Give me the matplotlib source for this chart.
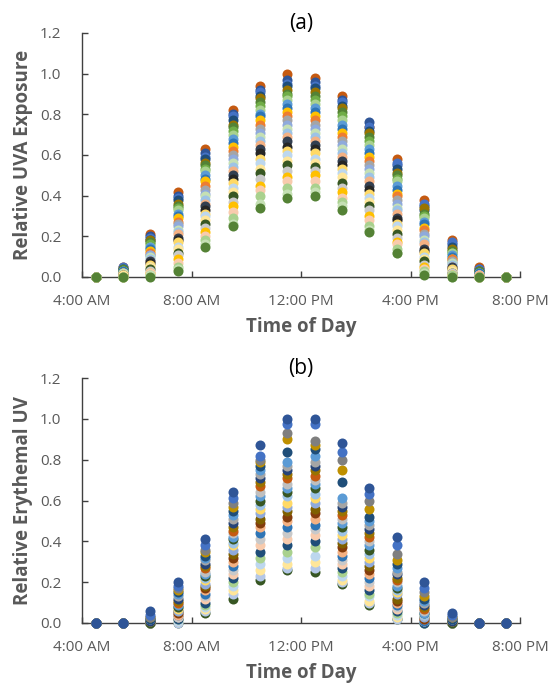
import matplotlib
matplotlib.use("Agg")
import matplotlib.pyplot as plt

plt.rcParams['font.family'] = ['Open Sans', 'DejaVu Sans']

# Sampling times (hours of the day, half past each hour)
hours = [4.5, 5.5, 6.5, 7.5, 8.5, 9.5, 10.5, 11.5, 12.5, 13.5, 14.5, 15.5, 16.5, 17.5, 18.5, 19.5]

tick_hours = [4, 8, 12, 16, 20]
tick_labels = ["4:00 AM", "8:00 AM", "12:00 PM", "4:00 PM", "8:00 PM"]
y_ticks = [0.0, 0.2, 0.4, 0.6, 0.8, 1.0, 1.2]

# ---- (a) Relative UVA exposure, one row per site/day ----
uva_colors = [
    "#C55A11", "#2F5597", "#4472C4", "#1F4E79", "#997300", "#548235",
    "#70AD47", "#A9D18E", "#5B9BD5", "#2E75B6", "#FFC000", "#ED7D31",
    "#A5A5A5", "#8FAADC", "#C5E0B4", "#9DC3E6", "#F4B183", "#333F50",
    "#262626", "#FFD966", "#BDD7EE", "#FFE699", "#385723", "#C9C9C9",
    "#FFC000", "#F8CBAD", "#A9D18E", "#C5E0B4", "#548235",
]
uva = [
    [0, .05, .21, .42, .63, .82, .94, 1.00, .98, .89, .74, .58, .38, .18, .05, 0],
    [0, .04, .20, .40, .61, .80, .92, .97, .96, .87, .76, .55, .35, .16, .04, 0],
    [0, .05, .19, .39, .59, .79, .91, .95, .94, .86, .74, .56, .36, .17, .04, 0],
    [0, .04, .18, .38, .58, .77, .89, .94, .93, .84, .72, .53, .33, .15, .03, 0],
    [0, .03, .18, .36, .56, .75, .88, .92, .91, .83, .71, .51, .34, .14, .03, 0],
    [0, .04, .17, .35, .55, .74, .86, .90, .89, .81, .69, .50, .31, .13, .03, 0],
    [0, .03, .16, .34, .53, .72, .84, .89, .87, .79, .67, .48, .30, .12, .02, 0],
    [0, .03, .15, .33, .52, .70, .82, .87, .85, .77, .65, .47, .29, .12, .02, 0],
    [0, .02, .15, .31, .50, .68, .80, .85, .83, .75, .63, .45, .27, .11, .02, 0],
    [0, .03, .14, .30, .48, .66, .79, .83, .81, .73, .61, .43, .26, .10, .02, 0],
    [0, .02, .13, .29, .47, .64, .77, .81, .79, .71, .59, .41, .24, .09, .01, 0],
    [0, .02, .12, .27, .45, .62, .75, .79, .77, .69, .57, .40, .23, .09, .01, 0],
    [0, .02, .11, .26, .43, .60, .73, .77, .75, .67, .55, .38, .21, .08, .01, 0],
    [0, .01, .11, .25, .41, .58, .71, .75, .73, .65, .53, .36, .20, .07, .01, 0],
    [0, .02, .10, .23, .40, .56, .69, .73, .71, .63, .51, .34, .18, .07, .01, 0],
    [0, .01, .09, .22, .38, .54, .67, .71, .69, .61, .49, .33, .17, .06, .01, 0],
    [0, .01, .08, .21, .36, .52, .65, .69, .67, .59, .47, .31, .16, .05, .01, 0],
    [0, .01, .08, .19, .35, .50, .63, .67, .65, .57, .45, .29, .14, .05, 0, 0],
    [0, .01, .07, .18, .33, .48, .61, .64, .63, .55, .43, .28, .13, .04, 0, 0],
    [0, .01, .06, .17, .31, .46, .58, .62, .61, .53, .41, .26, .12, .04, 0, 0],
    [0, 0, .05, .15, .30, .44, .56, .60, .58, .51, .39, .25, .10, .03, 0, 0],
    [0, .01, .05, .14, .28, .42, .53, .57, .56, .49, .37, .23, .09, .03, 0, 0],
    [0, 0, .04, .12, .26, .40, .51, .55, .54, .46, .35, .21, .08, .02, 0, 0],
    [0, 0, .03, .11, .24, .37, .48, .52, .52, .44, .33, .19, .06, .02, 0, 0],
    [0, 0, .02, .09, .22, .35, .45, .49, .50, .42, .30, .17, .05, .01, 0, 0],
    [0, 0, .02, .07, .20, .32, .43, .47, .47, .39, .28, .16, .04, .01, 0, 0],
    [0, 0, .01, .05, .18, .29, .40, .44, .44, .37, .25, .14, .03, .01, 0, 0],
    [0, 0, .01, .04, .16, .26, .36, .41, .42, .35, .23, .12, .02, 0, 0, 0],
    [0, 0, 0, .03, .15, .25, .34, .39, .40, .33, .22, .12, .01, 0, 0, 0],
]

# ---- (b) Relative erythemal UV, one row per site/day ----
ery_colors = [
    "#2F5597", "#4472C4", "#7F7F7F", "#BF9000", "#1F4E79", "#5B9BD5",
    "#A5A5A5", "#264478", "#997300", "#C55A11", "#BFBFBF", "#5B9BD5",
    "#385723", "#9DC3E6", "#FFD966", "#8FAADC", "#7F6000", "#843C0C",
    "#F4B183", "#2E75B6", "#C9C9C9", "#F8CBAD", "#1F4E79", "#A9D18E",
    "#BDD7EE", "#FFE699", "#B4C7E7", "#375623",
]
ery = [
    [0, 0, .06, .20, .41, .64, .87, 1.00, 1.00, .88, .66, .42, .20, .05, 0, 0],
    [0, 0, .04, .18, .38, .61, .82, .975, .975, .84, .63, .38, .17, .04, 0, 0],
    [0, 0, .03, .17, .36, .59, .80, .93, .89, .80, .60, .34, .15, .03, 0, 0],
    [0, 0, .03, .16, .35, .57, .79, .90, .87, .75, .56, .31, .13, .03, 0, 0],
    [0, 0, .02, .15, .33, .55, .77, .84, .85, .69, .52, .29, .12, .02, 0, 0],
    [0, 0, .02, .14, .32, .53, .75, .79, .82, .61, .50, .27, .11, .02, 0, 0],
    [0, 0, .02, .13, .31, .51, .73, .77, .79, .59, .48, .25, .10, .02, 0, 0],
    [0, 0, .01, .12, .29, .49, .71, .75, .77, .57, .46, .24, .09, .01, 0, 0],
    [0, 0, .01, .11, .28, .47, .69, .73, .75, .55, .44, .22, .08, .01, 0, 0],
    [0, 0, .01, .10, .27, .45, .67, .71, .72, .53, .42, .21, .07, .01, 0, 0],
    [0, 0, .01, .10, .25, .44, .64, .68, .70, .51, .40, .20, .06, .01, 0, 0],
    [0, 0, .01, .09, .24, .42, .62, .66, .68, .49, .38, .18, .05, .01, 0, 0],
    [0, 0, 0, .08, .23, .41, .60, .64, .66, .47, .36, .17, .05, 0, 0, 0],
    [0, 0, 0, .08, .22, .39, .58, .62, .63, .45, .34, .16, .04, 0, 0, 0],
    [0, 0, 0, .07, .21, .38, .56, .59, .61, .43, .32, .15, .04, 0, 0, 0],
    [0, 0, 0, .06, .19, .36, .54, .57, .59, .41, .30, .14, .03, 0, 0, 0],
    [0, 0, 0, .06, .18, .34, .51, .55, .56, .39, .28, .12, .03, 0, 0, 0],
    [0, 0, 0, .05, .17, .32, .49, .52, .54, .37, .26, .11, .02, 0, 0, 0],
    [0, 0, 0, .04, .16, .30, .47, .50, .51, .35, .24, .10, .02, 0, 0, 0],
    [0, 0, 0, .04, .14, .28, .44, .47, .48, .33, .22, .09, .01, 0, 0, 0],
    [0, 0, 0, .03, .13, .26, .41, .44, .46, .31, .20, .08, .01, 0, 0, 0],
    [0, 0, 0, .03, .12, .24, .38, .41, .43, .29, .18, .07, .01, 0, 0, 0],
    [0, 0, 0, .02, .10, .22, .35, .38, .40, .27, .16, .06, 0, 0, 0, 0],
    [0, 0, 0, .02, .09, .20, .32, .35, .37, .25, .14, .05, 0, 0, 0, 0],
    [0, 0, 0, .01, .08, .18, .29, .32, .33, .23, .13, .04, 0, 0, 0, 0],
    [0, 0, 0, .01, .07, .16, .26, .29, .30, .21, .11, .03, 0, 0, 0, 0],
    [0, 0, 0, 0, .06, .14, .23, .27, .27, .20, .10, .02, 0, 0, 0, 0],
    [0, 0, 0, 0, .05, .12, .21, .26, .25, .19, .09, .02, 0, 0, 0, 0],
]

W, H = 553, 693
fig = plt.figure(figsize=(W / 100, H / 100), dpi=100)

AXIS_GREY = "#404040"
TEXT_GREY = "#595959"


def panel(rect, series, colors, top_last, ylabel, tag):
    ax = fig.add_axes(rect)
    order = list(range(len(series)))
    if top_last:
        order = order[::-1]
    for i in order:
        ax.scatter(hours, series[i], s=52, color=colors[i], linewidths=0,
                   zorder=3, clip_on=False)
    ax.set_xlim(4, 20)
    ax.set_ylim(0, 1.2)
    ax.set_xticks(tick_hours)
    ax.set_xticklabels(tick_labels)
    ax.set_yticks(y_ticks)
    ax.set_yticklabels([f"{v:.1f}" for v in y_ticks])
    for side in ("top", "right"):
        ax.spines[side].set_visible(False)
    for side in ("left", "bottom"):
        ax.spines[side].set_color(AXIS_GREY)
        ax.spines[side].set_linewidth(1.0)
    ax.tick_params(axis="both", direction="in", length=4, width=1.0,
                   color=AXIS_GREY, labelcolor=TEXT_GREY, labelsize=11)
    ax.tick_params(axis="x", pad=12)
    ax.tick_params(axis="y", pad=15)
    ax.set_ylabel(ylabel, fontsize=13.5, fontweight="bold", color=TEXT_GREY,
                  labelpad=5)
    ax.set_xlabel("Time of Day", fontsize=13.5, fontweight="bold",
                  color=TEXT_GREY, labelpad=6)
    ax.text(0.5, 1.04, tag, transform=ax.transAxes, ha="center", va="center",
            fontsize=15, color="black")
    return ax


panel([82 / W, 1 - 277 / H, 438 / W, 244 / H], uva, uva_colors, False,
      "Relative UVA Exposure", "(a)")
panel([82 / W, 1 - 623 / H, 438 / W, 245 / H], ery, ery_colors, True,
      "Relative Erythemal UV", "(b)")

fig.savefig("out.png", dpi=100)
